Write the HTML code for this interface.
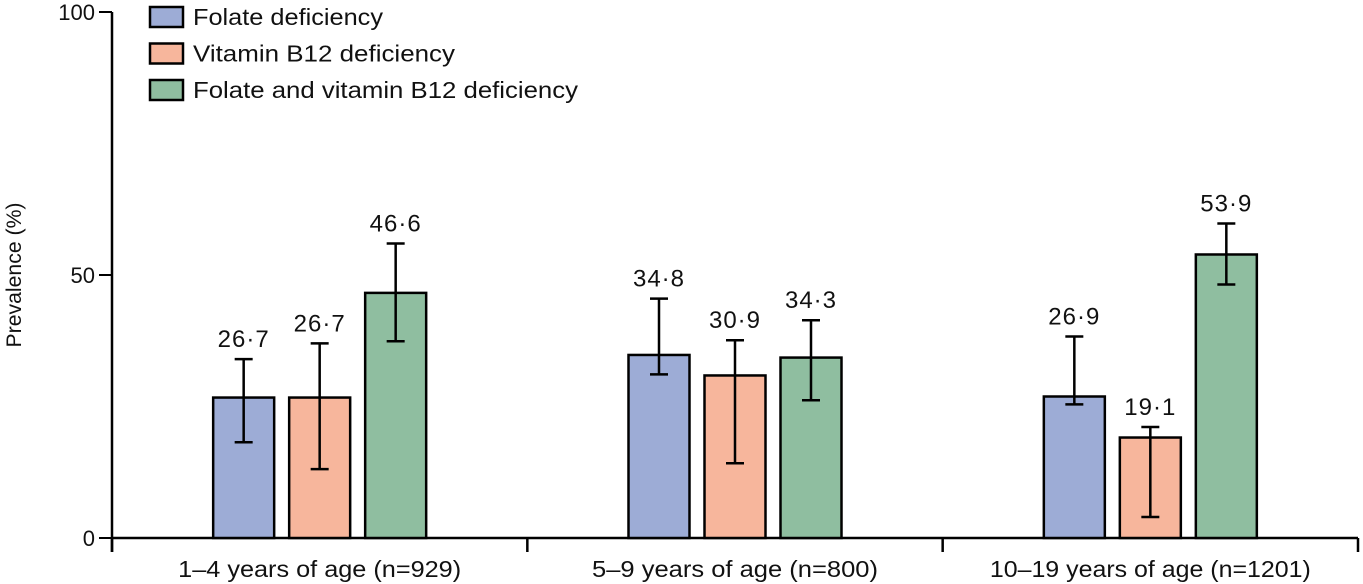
<!DOCTYPE html>
<html><head><meta charset="utf-8"><style>
body{margin:0;background:#fff}
svg{display:block;font-family:"Liberation Sans",sans-serif}
</style></head><body>
<svg id="chart" width="1363" height="584" viewBox="0 0 1363 584">
<g id="legend"></g>
<g id="axes"></g>
<g id="bars"></g>
</svg>
<script>
const categories = ["1–4 years of age (n=929)", "5–9 years of age (n=800)", "10–19 years of age (n=1201)"];
const seriesNames = ["Folate deficiency", "Vitamin B12 deficiency", "Folate and vitamin B12 deficiency"];
const folate = [26.7, 34.8, 26.9];
const b12 = [26.7, 30.9, 19.1];
const both = [46.6, 34.3, 53.9];
const folateLo = [18.2, 31.1, 25.4];
const folateHi = [34.0, 45.5, 38.3];
const b12Lo = [13.1, 14.2, 4.0];
const b12Hi = [37.0, 37.6, 21.1];
const bothLo = [37.4, 26.2, 48.2];
const bothHi = [56.0, 41.4, 59.8];
const yTicks = [0, 50, 100];

const NS = "http://www.w3.org/2000/svg";
const colors = ["#9dacd6", "#f7b69c", "#8fbea0"];
const catLen = [283, 286, 321];
const legLen = [190, 262, 385];
const x0 = 112, x1 = 1358, yBase = 538, yTop = 12;
const y = v => yBase - (v / 100) * (yBase - yTop);
const groupW = (x1 - x0) / categories.length;
const barW = 61, step = 76;
const barX = (g, s) => x0 + groupW * g + groupW / 2 - barW / 2 + (s - 1) * step;
function el(tag, attrs, parent, text) {
  const e = document.createElementNS(NS, tag);
  for (const k in attrs) e.setAttribute(k, attrs[k]);
  if (text !== undefined) e.textContent = text;
  parent.appendChild(e);
  return e;
}
const axes = document.getElementById("axes");
const bars = document.getElementById("bars");
const legend = document.getElementById("legend");
let a = el("line", {x1: x0, y1: yTop, x2: x0, y2: yBase + 14, stroke: "#000", "stroke-width": 2.5}, axes);


a = el("line", {x1: x0, y1: yBase, x2: x1, y2: yBase, stroke: "#000", "stroke-width": 2.5}, axes);


yTicks.forEach(t => {
  const tk = el("line", {x1: 99, y1: y(t), x2: x0, y2: y(t), stroke: "#000", "stroke-width": 2}, axes);
  
  
  const tl = el("text", {x: 95, y: y(t) + 8, "text-anchor": "end", "font-size": 22, fill: "#111"}, axes, t);
  
  
});
const yt = el("text", {x: 0, y: 0, transform: "translate(21,275) rotate(-90)", "text-anchor": "middle", "font-size": 21, fill: "#111", textLength: 145, lengthAdjust: "spacingAndGlyphs"}, axes, "Prevalence (%)");


for (let g = 0; g <= categories.length; g++) {
  const xx = x0 + groupW * g;
  const tk = el("line", {x1: xx, y1: yBase, x2: xx, y2: yBase + 14, stroke: "#000", "stroke-width": 2.5}, axes);
  
  
}
categories.forEach((c, g) => {
  const t = el("text", {x: x0 + groupW * g + groupW / 2, y: 577, "text-anchor": "middle", "font-size": 23, fill: "#111", textLength: catLen[g], lengthAdjust: "spacingAndGlyphs"}, axes, c);
  
  
});
const series = [folate, b12, both], los = [folateLo, b12Lo, bothLo], his = [folateHi, b12Hi, bothHi];
const names = ["folate", "b12", "both"];
categories.forEach((c, g) => {
  series.forEach((vals, s) => {
    const bx = barX(g, s), v = vals[g];
    const r = el("rect", {x: bx, y: y(v), width: barW, height: yBase - y(v), fill: colors[s], stroke: "#000", "stroke-width": 2.5}, bars);
    
    
    const cx = bx + barW / 2;
    const eb = el("path", {d: `M${cx},${y(los[s][g])}V${y(his[s][g])}M${cx - 9},${y(los[s][g])}H${cx + 9}M${cx - 9},${y(his[s][g])}H${cx + 9}`, stroke: "#000", "stroke-width": 2.5, fill: "none"}, bars);
    
    
    const lbl = el("text", {x: cx, y: y(his[s][g]) - 12, "text-anchor": "middle", "font-size": 24, fill: "#111", "letter-spacing": 1}, bars, v.toFixed(1).replace(".", "·"));
    
    
  });
});
seriesNames.forEach((n, s) => {
  const yy = 7 + s * 36.5;
  const b = el("rect", {x: 150, y: yy, width: 33, height: 20, fill: colors[s], stroke: "#000", "stroke-width": 2.5}, legend);
  
  
  const t = el("text", {x: 193, y: yy + 18, "font-size": 23, fill: "#111", textLength: legLen[s], lengthAdjust: "spacingAndGlyphs"}, legend, n);
  
  
});
</script>
</body></html>
